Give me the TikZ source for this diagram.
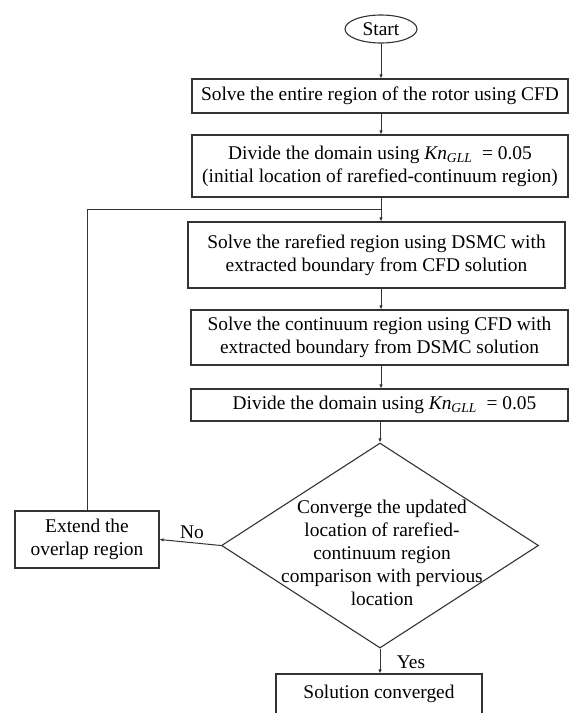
\documentclass[tikz,border=0pt]{standalone}
\usepackage{fontspec}
\setmainfont{Liberation Serif}
\usetikzlibrary{arrows.meta,shapes.geometric}
\newcommand{\kngll}{\textit{Kn}\textsubscript{\textit{GLL}}\ \ = 0.05}
\begin{document}
\begin{tikzpicture}[x=1pt,y=-1pt,
  every node/.style={font=\fontsize{19.4}{23}\selectfont, text=black},
  ln/.style={draw=black!80, line width=1.1pt},
  boxx/.style={ln, rectangle, align=center, inner sep=0pt},
  arr/.style={draw=black!80, line width=1pt, -{Latex[length=4pt,width=3.5pt]}},
  lbl/.style={inner sep=0pt}]
\useasboundingbox (0,0) rectangle (569,713);
\clip (0,0) rectangle (569,713);
\fill[white] (0,0) rectangle (569,713);
% nodes
\node[ln, ellipse, minimum width=72pt, minimum height=28pt, inner sep=0pt] (st) at (381,29) {Start};
\node[boxx, minimum width=376pt, minimum height=34pt] (b1) at (380,96) {Solve the entire region of the rotor using CFD};
\node[boxx, minimum width=376pt, minimum height=62pt] (b2) at (380,166) {Divide the domain using \kngll\\(initial location of rarefied-continuum region)};
\node[boxx, minimum width=377pt, minimum height=66pt] (b3) at (376.5,255) {Solve the rarefied region using DSMC with\\extracted boundary from CFD solution};
\node[boxx, minimum width=377pt, minimum height=55pt] (b4) at (379.5,337.5) {Solve the continuum region using CFD with\\extracted boundary from DSMC solution};
\node[boxx, minimum width=377pt, minimum height=32pt] (b5) at (379.5,405) {\hspace*{10pt}Divide the domain using \kngll};
\node[ln, diamond, minimum width=317pt, minimum height=205pt, inner sep=0pt] (dm) at (380,545.5) {};
\node[align=center, inner sep=0pt] (dt) at (382,553) {Converge the updated\\location of rarefied-\\continuum region\\comparison with pervious\\location};
\node[boxx, minimum width=144pt, minimum height=57pt] (ex) at (87,539.5) {Extend the\\overlap region};
\node[boxx, minimum width=206pt, minimum height=40pt] (fin) at (379,694) {Solution converged};
\node[lbl] (no) at (192,532) {No};
\node[lbl] (yes) at (411,662) {Yes};
% spine and loop
\coordinate (sp) at (381,0);
\coordinate (jn) at (381,209);
\draw[arr] (st.south) -- (st.south |- b1.north);
\draw[arr] (sp |- b1.south) -- (sp |- b2.north);
\draw[arr] (sp |- b2.south) -- (sp |- b3.north);
\draw[arr] (sp |- b3.south) -- (sp |- b4.north);
\draw[arr] (sp |- b4.south) -- (sp |- b5.north);
\draw[arr] (dm.north |- b5.south) -- (dm.north);
\draw[arr] (dm.south) -- (dm.south |- fin.north);
\draw[arr] (dm.west) -- (ex.east);
\draw[draw=black!80, line width=1pt] (ex.north) |- (jn);
\end{tikzpicture}
\end{document}
